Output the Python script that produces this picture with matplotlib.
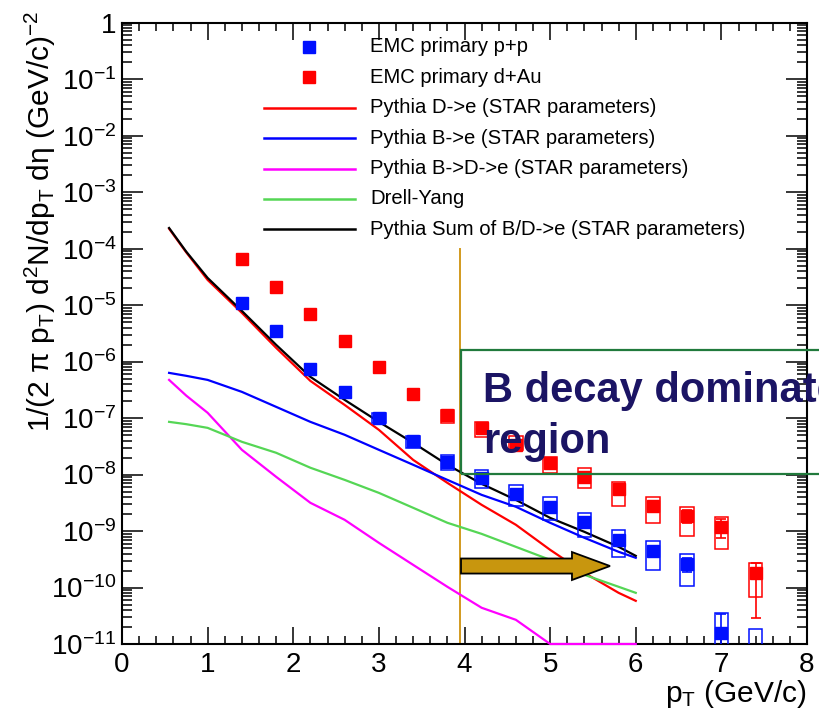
import numpy as np
import matplotlib
matplotlib.use('Agg')
import matplotlib.pyplot as plt
from matplotlib.lines import Line2D
from matplotlib.patches import Rectangle, Polygon
from matplotlib.ticker import LogLocator, MultipleLocator, FuncFormatter

plt.rcParams['font.family'] = ['Liberation Sans', 'DejaVu Sans']
plt.rcParams['mathtext.default'] = 'regular'

nan = np.nan

# EMC primary electrons, p+p and d+Au
pt_data = [1.4, 1.8, 2.2, 2.6, 3.0, 3.4, 3.8, 4.2, 4.6, 5.0, 5.4, 5.8, 6.2, 6.6, 7.0, 7.4]
pp_yield = [1.09e-5, 3.49e-6, 7.4e-7, 2.91e-7, 1.01e-7, 3.95e-8, 1.68e-8, 8.75e-9,
            4.55e-9, 2.69e-9, 1.46e-9, 6.98e-10, 4.47e-10, 2.62e-10, 1.58e-11, 5.0e-12]
pp_stat_lo = [0, 0, 0, 0, 0, 0, 0, 0, 0, 0, 0, 0, 0, 0.73e-10, 1.5e-11, 0]
pp_stat_hi = [0, 0, 0, 0, 0, 0, 0, 0, 0, 0, 0, 0, 0, 0.73e-10, 1.8e-11, 0]
pp_sys_hi = [nan, nan, nan, nan, 1.24e-7, 4.85e-8, 2.23e-8, 1.21e-8, 6.59e-9, 4.03e-9,
             2.10e-9, 1.05e-9, 6.71e-10, 3.95e-10, 3.56e-11, 1.86e-11]
pp_sys_lo = [nan, nan, nan, nan, 8.2e-8, 2.97e-8, 1.21e-8, 5.82e-9, 2.79e-9, 1.58e-9,
             7.89e-10, 3.49e-10, 2.06e-10, 1.07e-10, 1e-12, 1e-12]

dau_yield = [6.58e-5, 2.10e-5, 6.98e-6, 2.33e-6, 8.05e-7, 2.68e-7, 1.14e-7, 6.71e-8,
             3.36e-8, 1.61e-8, 9.12e-9, 5.58e-9, 2.79e-9, 1.86e-9, 1.19e-9, 1.82e-10]
dau_stat_lo = [0, 0, 0, 0, 0, 0, 0, 0, 0, 0, 0, 0, 0, 0.46e-9, 0.43e-9, 1.53e-10]
dau_stat_hi = [0, 0, 0, 0, 0, 0, 0, 0, 0, 0, 0, 0, 0, 0.46e-9, 0.43e-9, 0.91e-10]
dau_sys_hi = [nan, nan, nan, nan, nan, nan, 1.38e-7, 8.57e-8, 4.85e-8, 2.06e-8,
              1.32e-8, 7.43e-9, 4.03e-9, 2.69e-9, 1.79e-9, 2.74e-10]
dau_sys_lo = [nan, nan, nan, nan, nan, nan, 8.1e-8, 4.66e-8, 2.74e-8, 1.07e-8,
              5.82e-9, 2.79e-9, 1.40e-9, 8.22e-10, 4.84e-10, 6.84e-11]

# Pythia (STAR parameters) and Drell-Yang curves
pt_curve = [0.55, 0.75, 1.0, 1.4, 1.8, 2.2, 2.6, 3.0, 3.4, 3.8, 4.2, 4.6, 5.0, 5.4, 5.8, 6.0]
pythia_d_e = [2.25e-4, 8.6e-5, 2.79e-5, 7.28e-6, 1.75e-6, 4.55e-7, 1.71e-7, 6.19e-8,
              1.82e-8, 7.13e-9, 2.91e-9, 1.29e-9, 4.65e-10, 1.82e-10, 8.05e-11, 5.81e-11]
pythia_b_e = [6.31e-7, 5.6e-7, 4.74e-7, 2.91e-7, 1.58e-7, 8.57e-8, 5.06e-8, 2.74e-8,
              1.49e-8, 8.05e-9, 4.37e-9, 2.69e-9, 1.40e-9, 7.59e-10, 4.29e-10, 3.36e-10]
pythia_b_d_e = [4.74e-7, 2.5e-7, 1.24e-7, 2.74e-8, 9.12e-9, 3.16e-9, 1.58e-9, 6.18e-10,
                2.52e-10, 1.03e-10, 4.38e-11, 2.68e-11, 1e-11, 1e-11, 1e-11, 1e-11]
drell_yan = [8.57e-8, 7.8e-8, 6.71e-8, 3.80e-8, 2.43e-8, 1.32e-8, 8.05e-9, 4.74e-9,
             2.58e-9, 1.40e-9, 8.91e-10, 5.25e-10, 3.09e-10, 1.68e-10, 1.03e-10, 8.05e-11]
pythia_sum = [2.32e-4, 8.85e-5, 3.03e-5, 7.89e-6, 1.98e-6, 5.37e-7, 2.10e-7, 8.57e-8,
              3.65e-8, 1.49e-8, 6.85e-9, 3.56e-9, 1.71e-9, 9.68e-10, 5.25e-10, 3.64e-10]

pt_cut = 3.95

W, H = 819, 711
fig = plt.figure(figsize=(W / 100, H / 100), dpi=100)
ax = fig.add_axes([122 / W, 1 - 644 / H, 685 / W, 621.3 / H])
ax.set_yscale('log')
ax.set_xlim(0, 8)
ax.set_ylim(1e-11, 1)

curves = [
    (pythia_d_e, '#ff0000', 'Pythia D->e (STAR parameters)'),
    (pythia_b_e, '#0000ff', 'Pythia B->e (STAR parameters)'),
    (pythia_b_d_e, '#ff00ff', 'Pythia B->D->e (STAR parameters)'),
    (drell_yan, '#55d655', 'Drell-Yang'),
    (pythia_sum, '#000000', 'Pythia Sum of B/D->e (STAR parameters)'),
]
for vals, c, _ in curves:
    # B->D->e runs along the lower frame once it drops out of range
    ax.plot(pt_curve, vals, color=c, lw=1.6, zorder=3, clip_on=(c != '#ff00ff'))

points = [
    (pp_yield, pp_stat_lo, pp_stat_hi, pp_sys_lo, pp_sys_hi, '#0010ff', 'EMC primary p+p'),
    (dau_yield, dau_stat_lo, dau_stat_hi, dau_sys_lo, dau_sys_hi, '#ff0000', 'EMC primary d+Au'),
]
for y, elo, ehi, slo, shi, c, _ in points:
    ax.errorbar(pt_data, y, yerr=[elo, ehi], fmt='s', ms=9, color=c, ecolor=c,
                elinewidth=1.2, capsize=3.5, capthick=1.2, zorder=4)
    for x, lo, hi in zip(pt_data, slo, shi):
        if np.isnan(lo):
            continue
        ax.add_patch(Rectangle((x - 0.08, lo), 0.16, hi - lo, fill=False,
                               edgecolor=c, lw=1.1, zorder=5))

ax.plot([pt_cut, pt_cut], [1e-11, 1e-4], color='#d29a1e', lw=1.4, zorder=2)

# arrow pointing into the high-pT region
yc = 0.1255
arrow = Polygon([(0.4949, yc - 0.0121), (0.6569, yc - 0.0121), (0.6569, yc - 0.0225),
                 (0.7124, yc), (0.6569, yc + 0.0225), (0.6569, yc + 0.0121),
                 (0.4949, yc + 0.0121)], closed=True, transform=ax.transAxes,
                facecolor='#c8960e', edgecolor='black', lw=1.3, zorder=6)
ax.add_patch(arrow)

# axes styling
ax.yaxis.set_major_locator(LogLocator(base=10, numticks=20))
ax.yaxis.set_minor_locator(LogLocator(base=10, subs=np.arange(2, 10), numticks=200))
ax.yaxis.set_major_formatter(FuncFormatter(
    lambda v, p: '1' if abs(np.log10(v)) < 1e-6 else r'$10^{%d}$' % round(np.log10(v))))
ax.xaxis.set_major_locator(MultipleLocator(1))
ax.xaxis.set_minor_locator(MultipleLocator(0.2))
ax.tick_params(which='both', direction='in', top=True, right=True, width=1.1, labelsize=20)
ax.tick_params(axis='y', which='major', length=15, pad=4)
ax.tick_params(axis='y', which='minor', length=7.5)
ax.tick_params(axis='x', which='major', length=12, pad=6)
ax.tick_params(axis='x', which='minor', length=6)
for s in ax.spines.values():
    s.set_linewidth(1.5)

ax.set_xlabel('p$_{T}$ (GeV/c)', fontsize=21.5, loc='right')
ax.xaxis.set_label_coords(1.0, -0.055)
ax.set_ylabel(r'1/(2 $\pi$ p$_{T}$) d$^{2}$N/dp$_{T}$ d$\eta$ (GeV/c)$^{-2}$',
              fontsize=21.5, loc='top')
ax.yaxis.set_label_coords(-0.093, 1.02)

# legend, drawn by hand in figure pixels
rows = [(c, lab, True) for _, _, _, _, _, c, lab in points] + \
       [(c, lab, False) for _, c, lab in curves]
for i, (c, lab, is_marker) in enumerate(rows):
    yy = 1 - (47 + 30.4 * i) / H
    if is_marker:
        fig.add_artist(Line2D([309 / W], [yy], marker='s', ms=9, color=c, ls='none'))
    else:
        fig.add_artist(Line2D([264 / W, 355 / W], [yy, yy], color=c, lw=1.8))
    fig.text(370 / W, yy, lab, fontsize=14.6, va='center', ha='left')

# labelled box for the B decay dominated region
fig.add_artist(Rectangle((461 / W, 1 - 474 / H), 400 / W, 124 / H, fill=False,
                         edgecolor='#217a3c', lw=1.6, transform=fig.transFigure))
fig.text(483 / W, 1 - 402 / H, 'B decay dominated', fontsize=30, fontweight='bold',
         color='#1b1464', ha='left', va='baseline')
fig.text(483 / W, 1 - 453 / H, 'region', fontsize=30, fontweight='bold',
         color='#1b1464', ha='left', va='baseline')

fig.savefig('out.png', dpi=100)
